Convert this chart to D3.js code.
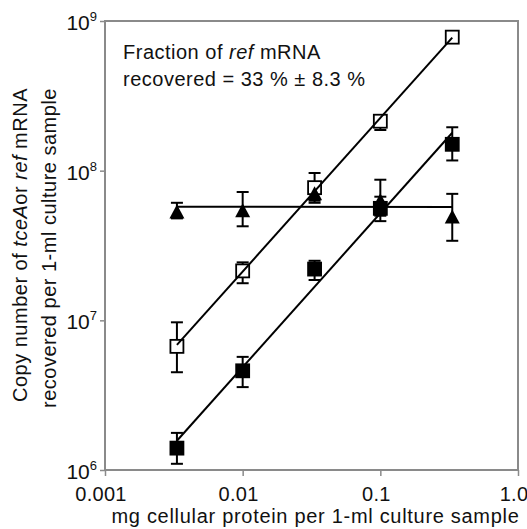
<!DOCTYPE html>
<html>
<head>
<meta charset="utf-8">
<script src="https://cdn.jsdelivr.net/npm/d3@7"></script>
<style>
  body { margin: 0; background: #fff; }
  svg text { font-family: "Liberation Sans", Arial, sans-serif; fill: #111; }
</style>
</head>
<body>
<div id="chart"></div>
<script>
const width = 527, height = 529;

// protein amount (mg) per sample
const xVals = [0.00333, 0.01, 0.0333, 0.1, 0.333];

// ref mRNA added (open squares)
const openY  = [6.7e6, 2.14e7, 7.7e7, 2.14e8, 7.8e8];
const openHi = [9.7e6, 2.44e7, 9.65e7, 2.35e8, 8.3e8];
const openLo = [4.5e6, 1.77e7, 6.3e7, 1.87e8, 7.3e8];

// ref mRNA recovered (filled squares)
const fillY  = [1.4e6, 4.6e6, 2.2e7, 5.6e7, 1.5e8];
const fillHi = [1.77e6, 5.7e6, 2.5e7, 6.7e7, 1.95e8];
const fillLo = [1.1e6, 3.58e6, 1.86e7, 4.6e7, 1.17e8];

// tceA mRNA (triangles)
const triY  = [5.3e7, 5.4e7, 7.0e7, 6.3e7, 4.9e7];
const triHi = [6.1e7, 7.2e7, 8.0e7, 8.7e7, 7.0e7];
const triLo = [4.8e7, 4.25e7, 6.1e7, 5.0e7, 3.4e7];

const xTicks = [0.001, 0.01, 0.1, 1];
const xTickLabels = ["0.001", "0.01", "0.1", "1.0"];
const yTicks = [1e6, 1e7, 1e8, 1e9];
const yTickExp = ["6", "7", "8", "9"];

const margin = {left: 105, right: 9, top: 21, bottom: 59};

let svg = d3.select("#chart")
    .append("svg")
    .attr("width", width)
    .attr("height", height);

let x = d3.scaleLog()
    .domain([0.001, 1])
    .range([margin.left, width - margin.right]);

let y = d3.scaleLog()
    .domain([1e6, 1e9])
    .range([height - margin.bottom, margin.top]);

// frame
svg.append("rect")
    .attr("x", x(0.001))
    .attr("y", y(1e9))
    .attr("width", x(1) - x(0.001))
    .attr("height", y(1e6) - y(1e9))
    .attr("fill", "none")
    .attr("stroke", "#8a8a8a")
    .attr("stroke-width", 2);

// axes (tick lines only)
let xAxis = svg.append("g")
    .attr("transform", `translate(0, ${y(1e6)})`)
    .call(d3.axisBottom(x).tickValues(xTicks).tickSize(6).tickFormat(""));
let yAxis = svg.append("g")
    .attr("transform", `translate(${x(0.001)}, 0)`)
    .call(d3.axisLeft(y).tickValues(yTicks).tickSize(5).tickFormat(""));
[xAxis, yAxis].forEach(function(a) {
    a.select(".domain").remove();
    a.selectAll("line").attr("stroke", "#8a8a8a").attr("stroke-width", 1.5);
});

svg.selectAll(".xlab")
    .data(xTicks)
    .enter()
    .append("text")
    .attr("class", "xlab")
    .attr("x", function(d) { return x(d) - 4; })
    .attr("y", 501)
    .style("text-anchor", "middle")
    .style("font-size", "20px")
    .style("letter-spacing", "0.3px")
    .text(function(d, i) { return xTickLabels[i]; });

let ylab = svg.selectAll(".ylab")
    .data(yTicks)
    .enter()
    .append("text")
    .attr("class", "ylab")
    .attr("x", 97)
    .attr("y", function(d) { return y(d) + 9; })
    .style("text-anchor", "end")
    .style("font-size", "21px");
ylab.append("tspan").text("10");
ylab.append("tspan")
    .attr("dy", -9)
    .style("font-size", "13px")
    .text(function(d, i) { return yTickExp[i]; });

// axis titles
svg.append("text")
    .attr("x", (x(0.001) + x(1)) / 2 + 4)
    .attr("y", 523)
    .style("text-anchor", "middle")
    .style("font-size", "20px")
    .style("letter-spacing", "0.7px")
    .text("mg cellular protein per 1-ml culture sample");

let yt1 = svg.append("text")
    .attr("transform", "translate(27, 245) rotate(-90)")
    .style("text-anchor", "middle")
    .style("font-size", "20px")
    .style("letter-spacing", "0.5px");
yt1.append("tspan").text("Copy number of ");
yt1.append("tspan").style("font-style", "italic").text("tceA");
yt1.append("tspan").text("or ");
yt1.append("tspan").style("font-style", "italic").text("ref");
yt1.append("tspan").text(" mRNA");

svg.append("text")
    .attr("transform", "translate(56, 248) rotate(-90)")
    .style("text-anchor", "middle")
    .style("font-size", "20px")
    .style("letter-spacing", "0.5px")
    .text("recovered per 1-ml culture sample");

// annotation
let ann1 = svg.append("text")
    .attr("x", 123)
    .attr("y", 59)
    .style("font-size", "20px")
    .style("letter-spacing", "0.5px");
ann1.append("tspan").text("Fraction of ");
ann1.append("tspan").style("font-style", "italic").text("ref");
ann1.append("tspan").text(" mRNA");

svg.append("text")
    .attr("x", 123)
    .attr("y", 86)
    .style("font-size", "20px")
    .style("letter-spacing", "0.5px")
    .text("recovered = 33 % \u00b1 8.3 %");

// series
let series = [
    {vals: openY, hi: openHi, lo: openLo, shape: "open"},
    {vals: fillY, hi: fillHi, lo: fillLo, shape: "fill"},
    {vals: triY, hi: triHi, lo: triLo, shape: "tri"}
];

function toPoints(s) {
    return xVals.map(function(v, i) {
        return {x: v, y: s.vals[i], hi: s.hi[i], lo: s.lo[i]};
    });
}

// least-squares fit in log-log space, drawn from first to last x
function fitLine(s) {
    let lx = xVals.map(Math.log10), ly = s.vals.map(Math.log10);
    let mx = d3.mean(lx), my = d3.mean(ly);
    let num = d3.sum(lx, function(v, i) { return (v - mx) * (ly[i] - my); });
    let den = d3.sum(lx, function(v) { return (v - mx) * (v - mx); });
    let b = num / den, a = my - b * mx;
    let ends = [lx[0], lx[lx.length - 1]];
    return ends.map(function(v) { return [x(Math.pow(10, v)), y(Math.pow(10, a + b * v))]; });
}

let capW = 6;
let errG = svg.append("g");
let markG = svg.append("g");
let lineG = svg.append("g");

series.forEach(function(s) {
    let pts = toPoints(s);
    let eb = errG.append("g").selectAll("g").data(pts).enter().append("g")
        .attr("stroke", "#000").attr("stroke-width", 2);
    eb.append("line")
        .attr("x1", function(d) { return x(d.x); })
        .attr("x2", function(d) { return x(d.x); })
        .attr("y1", function(d) { return y(d.hi); })
        .attr("y2", function(d) { return y(d.lo); });
    eb.append("line")
        .attr("x1", function(d) { return x(d.x) - capW; })
        .attr("x2", function(d) { return x(d.x) + capW; })
        .attr("y1", function(d) { return y(d.hi); })
        .attr("y2", function(d) { return y(d.hi); });
    eb.append("line")
        .attr("x1", function(d) { return x(d.x) - capW; })
        .attr("x2", function(d) { return x(d.x) + capW; })
        .attr("y1", function(d) { return y(d.lo); })
        .attr("y2", function(d) { return y(d.lo); });
});

series.forEach(function(s) {
    let pts = toPoints(s);
    if (s.shape === "tri") {
        markG.append("g").selectAll("path").data(pts).enter().append("path")
            .attr("d", "M-7.5,6.5L7.5,6.5L0,-7.5Z")
            .attr("transform", function(d) { return `translate(${x(d.x)}, ${y(d.y)})`; })
            .attr("fill", "#000");
    } else {
        markG.append("g").selectAll("rect").data(pts).enter().append("rect")
            .attr("x", function(d) { return x(d.x) - 6.5; })
            .attr("y", function(d) { return y(d.y) - 6.5; })
            .attr("width", 13)
            .attr("height", 13)
            .attr("fill", s.shape === "open" ? "#fff" : "#000")
            .attr("stroke", "#000")
            .attr("stroke-width", 1.8);
    }
});

series.forEach(function(s) {
    lineG.append("path")
        .attr("d", d3.line()(fitLine(s)))
        .attr("stroke", "#000")
        .attr("stroke-width", 2)
        .attr("fill", "none");
});
</script>
</body>
</html>
